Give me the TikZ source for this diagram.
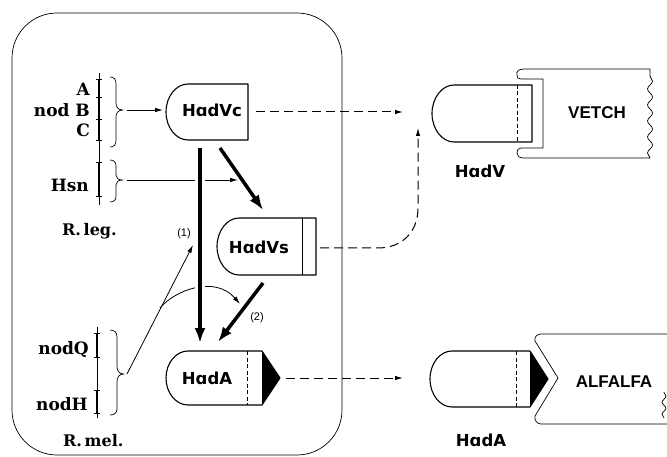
\documentclass[tikz,border=0pt]{standalone}
\usepackage{fontspec}
\usetikzlibrary{arrows.meta,decorations.pathmorphing}
\newfontfamily\slabfont{DejaVu Serif}
\newfontfamily\hadfont{DejaVu Sans}
\newfontfamily\helvfont{Liberation Sans}
\tikzset{
  frameline/.style={line width=0.7pt},
  thinline/.style={line width=0.7pt},
  boxline/.style={line width=1.1pt},
  thinarrow/.style={line width=0.8pt,-{Latex[length=8pt,width=4.5pt]}},
  thickarrow/.style={line width=3.5pt,-{Latex[length=15pt,width=11pt]}},
  dasharrow/.style={line width=1pt,dash pattern=on 9pt off 5pt,-{Latex[length=8pt,width=4.5pt]}},
  innerdash/.style={line width=0.9pt,dash pattern=on 4pt off 2.5pt},
  genebar/.style={line width=2.4pt},
  genetick/.style={line width=1pt},
  genetxt/.style={font=\slabfont\bfseries\fontsize{17}{17}\selectfont,inner sep=0pt},
  orgtxt/.style={font=\slabfont\bfseries\fontsize{16}{16}\selectfont,inner sep=0pt},
  hadtxt/.style={font=\hadfont\bfseries\fontsize{16.5}{16.5}\selectfont,inner sep=0pt},
  planttxt/.style={font=\helvfont\bfseries\fontsize{17}{17}\selectfont,inner sep=0pt},
  numtxt/.style={font=\helvfont\fontsize{11}{11}\selectfont,inner sep=0pt},
  wavy/.style={thinline,decorate,decoration={snake,segment length=16pt,amplitude=2.5pt}}
}
\begin{document}
\begin{tikzpicture}[x=1pt,y=-1pt,line join=round]
\useasboundingbox (0,0) rectangle (667,457);

% outer frame
\draw[frameline,rounded corners=45pt] (12,13) rectangle (342,455);

% ---------- gene maps ----------
\draw[thinline] (99,73) -- (99,205);
\draw[genebar] (99,80) -- (99,141) (99,163) -- (99,197);
\foreach \yy in {80,98,120,141,163,197} \draw[genetick] (96,\yy) -- (102,\yy);
\draw[thinline] (97,327) -- (97,418);
\draw[genebar] (97,333) -- (97,357) (97,390) -- (97,413);
\foreach \yy in {333,357,390,413} \draw[genetick] (94,\yy) -- (100,\yy);

\node[genetxt,anchor=base east] (gA) at (90,96) {A};
\node[genetxt,anchor=base east] (gB) at (90,117) {nod B};
\node[genetxt,anchor=base east] (gC) at (90,137) {C};
\node[genetxt,anchor=base east] (gHsn) at (89,192) {Hsn};
\node[orgtxt,anchor=base west] (rleg) at (62,236) {R.\,leg.};
\node[genetxt,anchor=base east] (gQ) at (89,354) {nodQ};
\node[genetxt,anchor=base east] (gH) at (88,410) {nodH};
\node[orgtxt,anchor=base west] (rmel) at (63,446) {R.\,mel.};

% braces
\draw[thinline] (110,77) .. controls (114,77) and (116,79) .. (116,84) -- (116,103)
  .. controls (116,107) and (118,110) .. (123,110) .. controls (118,110) and (116,113) .. (116,117)
  -- (116,140) .. controls (116,145) and (114,147) .. (110,147);
\coordinate (b1) at (127,110);
\draw[thinline] (110,160) .. controls (114,160) and (116,162) .. (116,166) -- (116,175)
  .. controls (116,178) and (118,180) .. (123,180) .. controls (118,180) and (116,182) .. (116,185)
  -- (116,196) .. controls (116,200) and (114,202) .. (110,202);
\coordinate (b2) at (127,180);
\draw[thinline] (110,330) .. controls (114,330) and (117,332) .. (117,337) -- (117,366)
  .. controls (117,371) and (119,374) .. (124,374) .. controls (119,374) and (117,377) .. (117,382)
  -- (117,409) .. controls (117,413) and (114,415) .. (110,415);
\coordinate (b3) at (127,374);

% ---------- left boxes ----------
\draw[boxline] (188,84) -- (248,84) -- (248,140) -- (188,140)
  .. controls (176,140) and (166,127.5) .. (166,112) .. controls (166,96.5) and (176,84) .. cycle;
\node[hadtxt,anchor=base] (hvc) at (212,117) {HɑdVc};
\coordinate (hvcL) at (163,110);
\coordinate (hvcR) at (256,112);

\draw[boxline] (239,218) -- (316,218) -- (316,275) -- (239,275)
  .. controls (227,275) and (217,262) .. (217,246.5) .. controls (217,231) and (227,218) .. cycle;
\draw[thinline] (302,218) -- (302,275);
\node[hadtxt,anchor=base] (hvs) at (259,254) {HɑdVs};
\coordinate (hvsIn) at (238,180);
\coordinate (hvsR) at (320,248);

\draw[boxline] (188,351) -- (262,351) -- (280,378) -- (262,405) -- (188,405)
  .. controls (176,405) and (166,393) .. (166,378) .. controls (166,363) and (176,351) .. cycle;
\fill (262,351) -- (280,378) -- (262,405) -- cycle;
\draw[innerdash] (247,351) -- (247,405);
\node[hadtxt,anchor=base] (hal) at (207,384) {HɑdA};
\coordinate (halR) at (286,378);

% ---------- right side ----------
\draw[boxline] (454,85) -- (532,85) -- (532,142) -- (454,142)
  .. controls (442,142) and (432,129) .. (432,113.5) .. controls (432,98) and (442,85) .. cycle;
\draw[innerdash] (517,85) -- (517,142);
\node[hadtxt,anchor=base] (hv) at (480,178) {HɑdV};
\coordinate (hvIn) at (403,112);
\coordinate (hvIn2) at (418,128);

\draw[thinline] (650,69) -- (524,69) .. controls (518,69) and (516,72) .. (517,75)
  .. controls (517,78) and (518,79) .. (521,79) -- (543,79) -- (543,148) -- (521,148)
  .. controls (518,148) and (517,150) .. (517,153) .. controls (517,156) and (519,158) .. (524,158) -- (650,158);
\draw[wavy] (650,158) -- (650,69);
\node[planttxt,anchor=base] (vetch) at (597,119) {VETCH};

\draw[boxline] (452,351) -- (530,351) -- (548,379) -- (530,407) -- (452,407)
  .. controls (440,407) and (430,394.5) .. (430,379) .. controls (430,363.5) and (440,351) .. cycle;
\fill (530,351) -- (548,379) -- (530,407) -- cycle;
\draw[innerdash] (516,351) -- (516,407);
\node[hadtxt,anchor=base] (har) at (481,446) {HɑdA};
\coordinate (harIn) at (403,378);

\draw[thinline] (667,334) -- (541,334) .. controls (537,334) and (534,337) .. (535,341)
  -- (558,378) -- (535,416) .. controls (534,420) and (537,424) .. (541,424) -- (667,424);
\draw[wavy,decoration={snake,segment length=12pt,amplitude=2pt}] (664,418) -- (664,392);
\node[planttxt,anchor=base] (alfalfa) at (614,387) {ALFALFA};

% ---------- connectors ----------
\draw[thinarrow] (b1) -- (hvcL);
\draw[thinarrow] (b2) -- (hvsIn);
\coordinate (one) at (193,245);
\draw[thinarrow] (b3) -- (one);
\coordinate (arcS) at (160,308);
\coordinate (arcE) at (240,304);
\draw[thinarrow] (arcS) .. controls (175,290) and (215,275) .. (arcE);

% gap for crossing lines
\draw[white,line width=10pt] (200,168) -- (200,300);
\coordinate (vtop) at (200,148);
\coordinate (vbot) at (200,343);
\draw[thickarrow] (vtop) -- (vbot);
\coordinate (dtop) at (220,148);
\coordinate (dbot) at (263,210);
\draw[thickarrow] (dtop) -- (dbot);
\coordinate (d2top) at (263,283);
\coordinate (d2bot) at (218,342);
\draw[thickarrow] (d2top) -- (d2bot);
\node[numtxt] (n1) at (184,234) {(1)};
\node[numtxt] (n2) at (257,318) {(2)};

\draw[dasharrow] (hvcR) -- (hvIn);
\draw[dasharrow] (hvsR) -- (378,248) .. controls (402,248) and (418,232) .. (418,208) -- (hvIn2);
\draw[dasharrow] (halR) -- (harIn);
\end{tikzpicture}
\end{document}
